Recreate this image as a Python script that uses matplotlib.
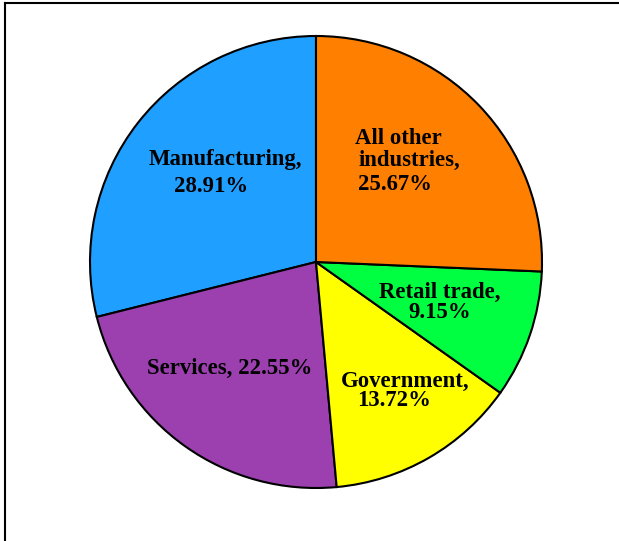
import matplotlib.pyplot as plt
from matplotlib.lines import Line2D

# slice data, counter-clockwise from the top
sectors = ['Manufacturing', 'Services', 'Government', 'Retail trade', 'All other industries']
shares = [28.91, 22.55, 13.72, 9.15, 25.67]
colors = ['#1f9fff', '#9c40b0', '#ffff00', '#00ff40', '#ff8000']

W, H = 619, 541
cx, cy, r = 316, 262, 226

fig = plt.figure(figsize=(W / 100, H / 100), dpi=100)
ax = fig.add_axes([0, 0, 1, 1])
ax.axis('off')

ax.pie(shares, colors=colors, startangle=90, counterclock=True, radius=1,
       wedgeprops=dict(edgecolor='black', linewidth=1.5))
ax.set_xlim((0 - cx) / r, (W - cx) / r)
ax.set_ylim((cy - H) / r, cy / r)
ax.set_aspect('auto')

def px(x, y):
    return (x - cx) / r, (cy - y) / r

font = dict(family='Liberation Serif', fontweight='bold', fontsize=16.4, color='black')

# label lines: (text, x, y, ha) in pixel positions
label_lines = [
    ('Manufacturing,', 225, 160, 'center'),
    ('28.91%', 211, 186, 'center'),
    ('All other', 355, 138, 'left'),
    ('industries,', 359, 160, 'left'),
    ('25.67%', 358, 185, 'left'),
    ('Retail trade,', 440, 292, 'center'),
    ('9.15%', 440, 312, 'center'),
    ('Services, 22.55%', 230, 368, 'center'),
    ('Government,', 405, 381, 'center'),
    ('13.72%', 394, 401, 'center'),
]
for txt, x, y, ha in label_lines:
    ax.text(*px(x, y), txt, ha=ha, va='center', **font)

# frame lines (partially cropped in the original)
fig.add_artist(Line2D([5 / W, 5 / W], [0, 1 - 3 / H], color='black', lw=1.5,
                      transform=fig.transFigure))
fig.add_artist(Line2D([5 / W, 1], [1 - 3 / H, 1 - 3 / H], color='black', lw=1.5,
                      transform=fig.transFigure))

fig.savefig('out.png', dpi=100)
